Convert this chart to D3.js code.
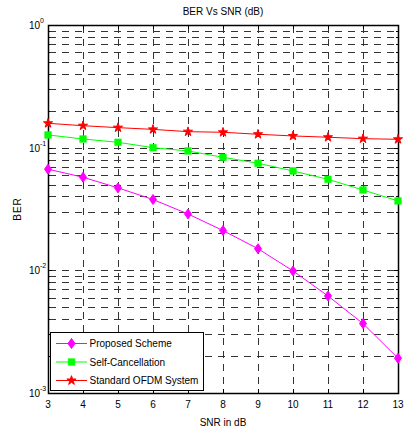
<!DOCTYPE html>
<html><head><meta charset="utf-8">
<script src="https://cdn.jsdelivr.net/npm/d3@7"></script>
<style>body{margin:0;background:#fff}svg{display:block;font-family:"Liberation Sans",Arial,sans-serif}</style>
</head><body><svg id="c" width="404" height="431"></svg>
<script>
const snr = [3,4,5,6,7,8,9,10,11,12,13];
const proposed = [0.0668,0.0574,0.047,0.0378,0.0288,0.0211,0.0150,0.00989,0.00618,0.00368,0.00192];
const selfCancel = [0.127,0.1177,0.1106,0.100,0.094,0.0835,0.0746,0.0646,0.0552,0.0452,0.0368];
const standard = [0.158,0.151,0.1456,0.141,0.135,0.1335,0.1286,0.1246,0.1216,0.1184,0.117];
const xTicks = [3,4,5,6,7,8,9,10,11,12,13];
const yExps = [0,-1,-2,-3];
const seriesNames = ["Proposed Scheme","Self-Cancellation","Standard OFDM System"];

const W=404,H=431, m={l:48,r:6,t:25,b:38};
const svg=d3.select("#c");
const x=d3.scaleLinear().domain([3,13]).range([m.l,W-m.r]);
const y=d3.scaleLog().domain([1e-3,1]).range([H-m.b,m.t]);

const g=svg.append("g");
const yGrid=[];
for(let e=-3;e<0;e++){for(let k=1;k<10;k++){yGrid.push(k*Math.pow(10,e));}}
yGrid.push(1);
const grid=g.append("g").attr("stroke","#333").attr("stroke-width",1).attr("stroke-dasharray","7,6");
grid.selectAll(".hy").data(yGrid.filter(v=>v>1e-3&&v<1)).join("line")
 .attr("x1",m.l+1).attr("x2",W-m.r).attr("y1",d=>Math.round(y(d))+0.5).attr("y2",d=>Math.round(y(d))+0.5);
grid.selectAll(".vx").data(xTicks.filter(v=>v>3&&v<13)).join("line")
 .attr("y1",m.t+1).attr("y2",H-m.b).attr("x1",d=>Math.round(x(d))+0.5).attr("x2",d=>Math.round(x(d))+0.5);

const tk=g.append("g").attr("stroke","#000").attr("stroke-width",1);
xTicks.forEach(v=>{const px=Math.round(x(v))+0.5;
 tk.append("line").attr("x1",px).attr("x2",px).attr("y1",H-m.b).attr("y2",H-m.b-4);
 tk.append("line").attr("x1",px).attr("x2",px).attr("y1",m.t).attr("y2",m.t+4);});
yGrid.forEach(v=>{const py=Math.round(y(v))+0.5; const len=(Math.abs(Math.log10(v)-Math.round(Math.log10(v)))<1e-9)?4:2;
 tk.append("line").attr("x1",m.l).attr("x2",m.l+len).attr("y1",py).attr("y2",py);
 tk.append("line").attr("x1",W-m.r).attr("x2",W-m.r-len).attr("y1",py).attr("y2",py);});

g.append("rect").attr("x",m.l+0.5).attr("y",m.t+0.5).attr("width",W-m.r-m.l).attr("height",H-m.b-m.t)
 .attr("fill","none").attr("stroke","#000").attr("stroke-width",1.5);

g.selectAll(".xl").data(xTicks).join("text").attr("x",d=>x(d)).attr("y",H-m.b+15)
 .attr("text-anchor","middle").attr("font-size",10).text(d=>d);
yExps.forEach(e=>{
 g.append("text").attr("x",m.l-8).attr("y",y(Math.pow(10,e))+4).attr("text-anchor","end").attr("font-size",10).text("10");
 g.append("text").attr("x",m.l-8).attr("y",y(Math.pow(10,e))-2).attr("font-size",7).attr("text-anchor","start").text(String(e));});

svg.append("text").attr("x",(m.l+W-m.r)/2).attr("y",15).attr("text-anchor","middle").attr("font-size",10).text("BER Vs SNR (dB)");
svg.append("text").attr("x",(m.l+W-m.r)/2).attr("y",H-5).attr("text-anchor","middle").attr("font-size",10).text("SNR in dB");
svg.append("text").attr("transform",`translate(21,${(m.t+H-m.b)/2}) rotate(-90)`).attr("text-anchor","middle").attr("font-size",10).attr("letter-spacing",1).text("BER");

const colors=["#ff00ff","#00ff00","#ff0000"];
const datas=[proposed,selfCancel,standard];
const symbols=[d3.symbolDiamond,d3.symbolSquare,d3.symbolStar];
const sizes=[40,45,26];
const line=d3.line().x((d,i)=>x(snr[i])).y(d=>y(d));
function marker(sel,k,px,py){
 if(k===0){sel.append("path").attr("d",`M${px},${py-5}L${px+3.5},${py}L${px},${py+5}L${px-3.5},${py}Z`).attr("fill",colors[k]).attr("stroke",colors[k]);}
 else sel.append("path").attr("d",d3.symbol().type(symbols[k]).size(sizes[k])()).attr("transform",`translate(${px},${py})`).attr("fill",colors[k]).attr("stroke",colors[k]).attr("stroke-width",k===2?1:0.5);
}
[2,1,0].forEach(k=>{
 const sg=svg.append("g");
 sg.append("path").datum(datas[k]).attr("d",line).attr("fill","none").attr("stroke",colors[k]).attr("stroke-width",1);
 datas[k].forEach((v,i)=>marker(sg,k,x(snr[i]),y(v)));
});

const lg=svg.append("g");
lg.append("rect").attr("x",50.5).attr("y",332.5).attr("width",153).attr("height",58).attr("fill","#fff").attr("stroke","#000").attr("stroke-width",1);
seriesNames.forEach((n,k)=>{const ly=343.5+k*18.5;
 lg.append("line").attr("x1",56).attr("x2",87).attr("y1",ly).attr("y2",ly).attr("stroke",colors[k]).attr("stroke-width",1);
 marker(lg,k,71.5,ly);
 lg.append("text").attr("x",89.5).attr("y",ly+3.5).attr("font-size",10).text(n);
});
</script></body></html>
